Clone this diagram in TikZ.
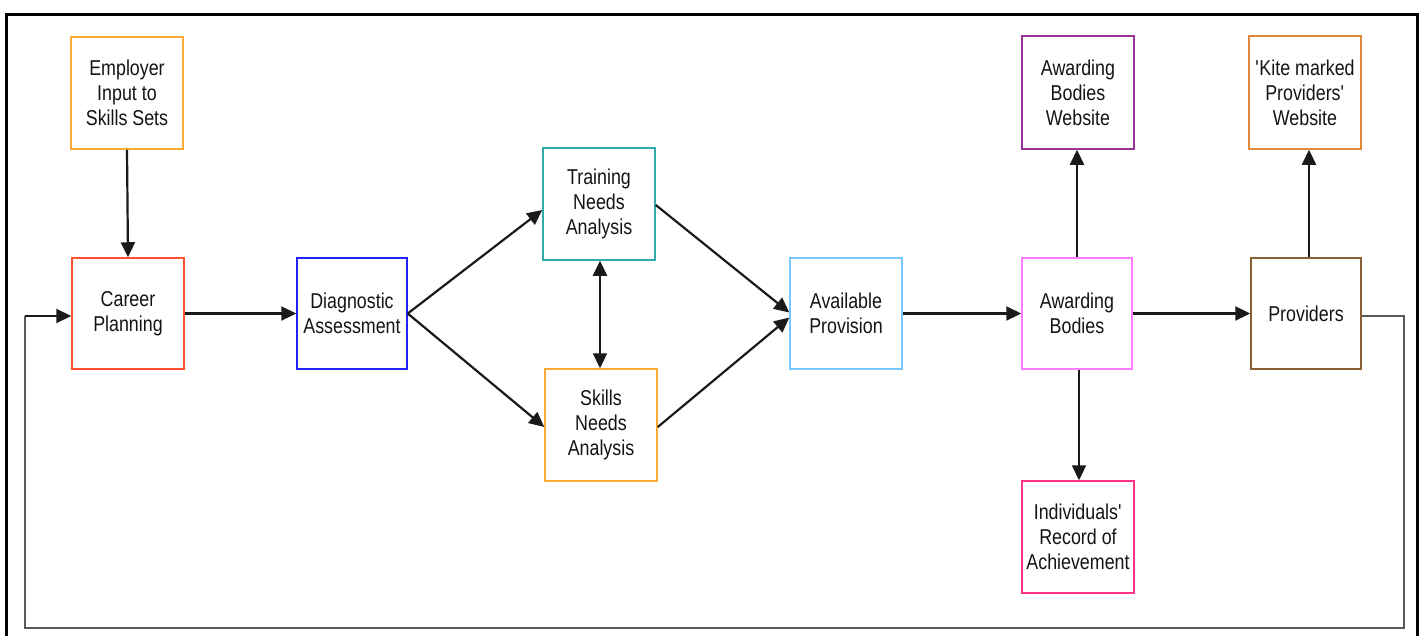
\documentclass[tikz,border=0pt]{standalone}
\usepackage{fontspec}
\setmainfont{Liberation Sans}[FakeStretch=0.83]
\usetikzlibrary{arrows.meta}
\definecolor{cEmp}{HTML}{FFAA33}
\definecolor{cCareer}{HTML}{FF5030}
\definecolor{cDiag}{HTML}{2222FF}
\definecolor{cTrain}{HTML}{33AAAA}
\definecolor{cSkill}{HTML}{FFAA33}
\definecolor{cAvail}{HTML}{7CC6FF}
\definecolor{cAB}{HTML}{FF7CFF}
\definecolor{cABW}{HTML}{993399}
\definecolor{cProv}{HTML}{8B5E34}
\definecolor{cKite}{HTML}{E08A38}
\definecolor{cInd}{HTML}{FF3388}
\definecolor{cLine}{HTML}{1A1A1A}
\definecolor{cFeed}{HTML}{5A5A5A}
\tikzset{
  box/.style={draw, line width=1.5pt, minimum width=112pt, minimum height=112pt,
    inner sep=0pt, align=center, text=black!92,
    font=\fontsize{21.5}{25}\selectfont},
  conn/.style={draw=cLine, line width=2.2pt,
    -{Triangle[length=15pt,width=14pt]}},
  both/.style={draw=cLine, line width=2.2pt,
    {Triangle[length=15pt,width=14pt]}-{Triangle[length=15pt,width=14pt]}},
  feed/.style={draw=cFeed, line width=2pt},
  frame/.style={draw=black, line width=3pt}
}
\begin{document}
\begin{tikzpicture}[x=1pt,y=-1pt]
\useasboundingbox (0,0) rectangle (1421,635);
\draw[frame] (6,640) -- (6,14) -- (1417,14) -- (1417,640);

\node[box, draw=cEmp]    (emp)    at (127,93)    {Employer\\Input to\\Skills Sets};
\node[box, draw=cCareer, minimum height=111pt] (career) at (128,313.5) {Career\\Planning};
\node[box, draw=cDiag, minimum width=110pt, minimum height=111pt] (diag) at (352,313.5) {Diagnostic\\Assessment};
\node[box, draw=cTrain]  (train)  at (599,204)   {Training\\Needs\\Analysis};
\node[box, draw=cSkill]  (skills) at (601,425)   {Skills\\Needs\\Analysis};
\node[box, draw=cAvail, minimum height=111pt] (avail) at (846,313.5) {Available\\Provision};
\node[box, draw=cAB, minimum width=110pt, minimum height=111pt] (ab) at (1077,313.5) {Awarding\\Bodies};
\node[box, draw=cABW, minimum height=113pt] (abw) at (1078,92.5) {Awarding\\Bodies\\Website};
\node[box, draw=cProv, minimum width=110pt, minimum height=111pt] (prov) at (1306,313.5) {Providers};
\node[box, draw=cKite, minimum height=113pt] (kite) at (1305,92.5) {\textquotesingle Kite marked\\Providers\textquotesingle\\Website};
\node[box, draw=cInd]    (ind)    at (1078,537)  {Individuals\textquotesingle\\Record of\\Achievement};

\draw[conn] (emp.south) -- (career.north);
\draw[conn] (career.east) -- (diag.west);
\draw[conn] (diag.east) -- ([yshift=-6pt]train.west);
\draw[conn] (diag.east) -- ([yshift=-2pt]skills.west);
\draw[both] ([xshift=1pt]train.south) -- ([xshift=-1pt]skills.north);
\draw[conn] ([yshift=-1pt]train.east) -- ([yshift=1pt]avail.west);
\draw[conn] ([yshift=-2pt]skills.east) -- ([yshift=-4pt]avail.west);
\draw[conn] (avail.east) -- (ab.west);
\draw[conn] (ab.east) -- (prov.west);
\draw[conn] (ab.north) -- (ab.north |- abw.south);
\draw[conn] ([xshift=2pt]ab.south) -- ([xshift=2pt]ab.south |- ind.north);
\draw[conn] ([xshift=3pt]prov.north) -- ([xshift=3pt]prov.north |- kite.south);

\coordinate (fr) at (1404,316);
\coordinate (fbr) at (1404,628);
\coordinate (fbl) at (25,628);
\coordinate (fl) at (25,316);
\draw[feed] ([yshift=-2.5pt]prov.east) -- (fr) -- (fbr) -- (fbl) -- (fl);
\draw[conn] (fl) -- ([yshift=-2.5pt]career.west);
\end{tikzpicture}
\end{document}
